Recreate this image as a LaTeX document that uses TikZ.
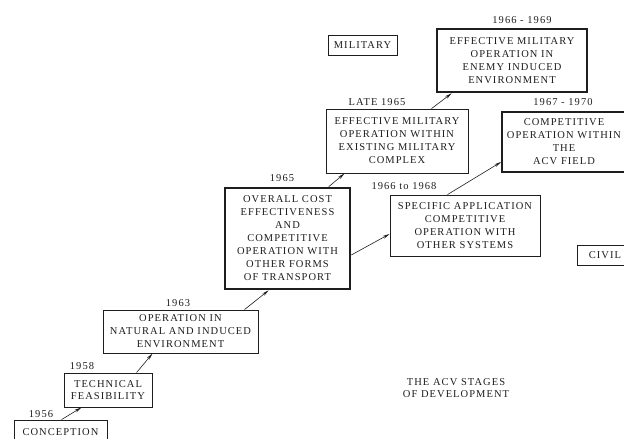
\documentclass[tikz,border=0pt]{standalone}
\usepackage{fontspec}
\setmainfont{Liberation Serif}
\newfontfamily\oldtype[LetterSpace=10]{Liberation Serif}
\usetikzlibrary{arrows.meta, positioning, calc}
\definecolor{inkgray}{RGB}{30, 30, 30}
\tikzset{
    stagebox/.style={
        rectangle, draw=inkgray, line width=0.9pt, fill=white, inner sep=0pt,
        align=center, font=\oldtype\fontsize{10.5}{13}\selectfont, text=inkgray
    },
    majorbox/.style={stagebox, line width=2.6pt},
    yearlabel/.style={font=\oldtype\fontsize{10.5}{12}\selectfont, text=inkgray, inner sep=0pt},
    arrow/.style={-{Stealth[length=7pt, width=3pt]}, line width=0.6pt, color=inkgray},
}
\begin{document}
\begin{tikzpicture}[x=1pt, y=-1pt]
                \useasboundingbox (0,0) rectangle (624,439);
                \clip (0,0) rectangle (624,439);

                % Stages
                \node[stagebox, minimum width=93pt, minimum height=24pt] (conc) at (60.5,432) {CONCEPTION};
                \node[stagebox, minimum width=88pt, minimum height=34pt, font=\oldtype\fontsize{10.5}{12}\selectfont] (tech) at (108,390) {TECHNICAL\\FEASIBILITY};
                \node[stagebox, minimum width=155pt, minimum height=43pt] (natop) at (180.5,331.5) {OPERATION IN\\NATURAL AND INDUCED\\ENVIRONMENT};
                \node[majorbox, minimum width=125pt, minimum height=101pt] (overall) at (287.5,238.5) {OVERALL COST\\EFFECTIVENESS\\AND\\COMPETITIVE\\OPERATION WITH\\OTHER FORMS\\OF TRANSPORT};

                % Military branch
                \node[stagebox, minimum width=142pt, minimum height=64pt] (milwithin) at (397,141) {EFFECTIVE MILITARY\\OPERATION WITHIN\\EXISTING MILITARY\\COMPLEX};
                \node[majorbox, minimum width=150pt, minimum height=63pt] (enemy) at (512,60.5) {EFFECTIVE MILITARY\\OPERATION IN\\ENEMY INDUCED\\ENVIRONMENT};
                \node[stagebox, minimum width=69pt, minimum height=20pt] (military) at (362.5,45) {MILITARY};

                % Civil branch
                \node[stagebox, minimum width=150pt, minimum height=61pt] (spec) at (465,225.5) {SPECIFIC APPLICATION\\COMPETITIVE\\OPERATION WITH\\OTHER SYSTEMS};
                \node[stagebox, line width=1.8pt, minimum width=124pt, minimum height=60pt] (acvfield) at (564,142) {COMPETITIVE\\OPERATION WITHIN\\THE\\ACV FIELD};
                \node[stagebox, minimum width=56pt, minimum height=20pt] (civil) at (605,255) {CIVIL};

                % Dates
                \node[yearlabel] (y1956) at (41,414) {1956};
                \node[yearlabel] (y1958) at (82,366) {1958};
                \node[yearlabel] (y1963) at (178,303) {1963};
                \node[yearlabel] (y1965) at (282,178) {1965};
                \node[yearlabel] (ylate) at (377,102) {LATE 1965};
                \node[yearlabel] (y1966) at (404,186) {1966 to 1968};
                \node[yearlabel] (y1969) at (522,20) {1966 - 1969};
                \node[yearlabel] (y1970) at (563,102) {1967 - 1970};

                % Title
                \node[yearlabel, align=center] (title) at (456,388) {THE ACV STAGES\\OF DEVELOPMENT};

                \draw[arrow] ([xshift=48pt]conc.north west) -- ([xshift=18pt]tech.south west);
                \draw[arrow] ([xshift=73pt]tech.north west) -- ([xshift=50pt]natop.south west);
                \draw[arrow] ([xshift=142pt]natop.north west) -- ([xshift=45pt]overall.south west);
                \draw[arrow] ([xshift=105pt]overall.north west) -- ([xshift=19pt]milwithin.south west);
                \draw[arrow] ([yshift=-16.5pt]overall.east) -- ([yshift=-8.5pt]spec.west);
                \draw[arrow] ([xshift=106pt]milwithin.north west) -- ([xshift=16pt]enemy.south west);
                \draw[arrow] ([xshift=58pt]spec.north west) -- ([yshift=-20pt]acvfield.west);
            \end{tikzpicture}
\end{document}
